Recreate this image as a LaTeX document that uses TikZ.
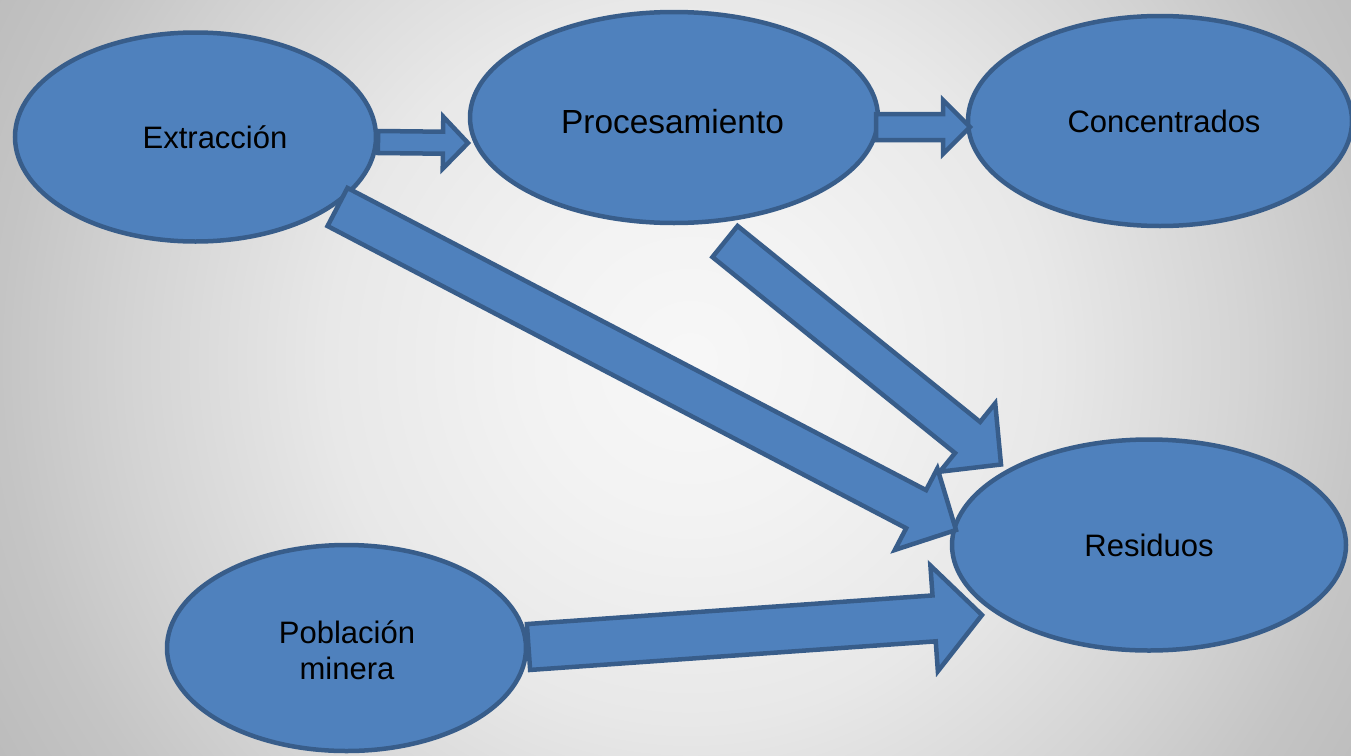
\documentclass[tikz,border=0pt]{standalone}
\usepackage{fontspec}
\setmainfont{Liberation Sans}
\usetikzlibrary{shapes.geometric,calc}
\definecolor{bubbleBlue}{HTML}{4F81BD}
\definecolor{bubbleEdge}{HTML}{385D8A}
\definecolor{backA}{gray}{0.97}
\definecolor{backB}{gray}{0.95}
\definecolor{backC}{gray}{0.91}
\definecolor{backD}{gray}{0.83}
\definecolor{backE}{gray}{0.77}
\definecolor{backF}{gray}{0.73}
% the path's box spans 25bp round the centre
\pgfdeclareradialshading{backShade}{\pgfpoint{0bp}{0bp}}{%
  color(0bp)=(backA); color(5bp)=(backB); color(11bp)=(backC);
  color(17bp)=(backD); color(21bp)=(backE); color(25bp)=(backF); color(50bp)=(backF)}
% block arrow: start, tip, shaft half width, head half width, head length
\newcommand{\blockarrow}[5]{%
  \coordinate (#1-base) at ($(#2)!#5pt!(#1)$);
  \draw[arrowDecorate] ($(#1)!#3pt!90:(#2)$) -- ($(#1-base)!#3pt!90:(#2)$)
    -- ($(#1-base)!#4pt!90:(#2)$) -- (#2) -- ($(#1-base)!#4pt!-90:(#2)$)
    -- ($(#1-base)!#3pt!-90:(#2)$) -- ($(#1)!#3pt!-90:(#2)$) -- cycle;
}
\begin{document}
\begin{tikzpicture}
[x=1pt,y=-1pt,
  nodeDecorate/.style={shape=ellipse,draw=bubbleEdge,fill=bubbleBlue,line width=4.5pt,inner sep=0pt},
  arrowDecorate/.style={draw=bubbleEdge,fill=bubbleBlue,line width=4.5pt,line join=miter},
  textDecorate/.style={align=center,text=black,inner sep=0pt}]
\useasboundingbox (0,0) rectangle (1351,755);
%% background
\begin{scope}
\clip (0,0) rectangle (1351,755);
\shade[shading=backShade] (690,360) circle (820);
\end{scope}
%% nodes or vertices
\foreach \nodename/\x/\y/\w/\h/\dx/\dy/\fs/\txt in {
  ext/195.5/137/361/209/19.5/0/31/{Extracción},
  proc/674/117.5/408/211/-1.5/-4.5/33.4/{Procesamiento},
  conc/1160/121/384/210/4/0/31/{Concentrados},
  res/1149/545/394/211/0/0/31/{Residuos},
  pob/346.5/648/359/206/0.5/-2/31/{Población\\minera}}
{
  \node (\nodename) at (\x,\y) [nodeDecorate,minimum width=\w pt,minimum height=\h pt,
    label={[textDecorate,font=\fontsize{\fs}{36}\selectfont,xshift=\dx pt,yshift=\dy pt]center:\txt}] {};
}
%% arrow ends
\foreach \pointname/\x/\y in {
  a1s/378/142, a1t/468/143, a2s/876/127, a2t/970/127,
  a3s/337.5/207, a3t/956/530, a4s/725/241.5, a4t/1001/464.5,
  a5s/528.5/647, a5t/982/615}
{
  \coordinate (\pointname) at (\x,\y);
}
%% block arrows
\foreach \startnode/\endnode/\shaft/\head/\len in {
  a1s/a1t/11/26/25, a2s/a2t/13/27/27, a4s/a4t/20/44/43,
  a3s/a3t/21.5/46/45, a5s/a5t/23/53/48}
{
  \blockarrow{\startnode}{\endnode}{\shaft}{\head}{\len}
}
\end{tikzpicture}
\end{document}
